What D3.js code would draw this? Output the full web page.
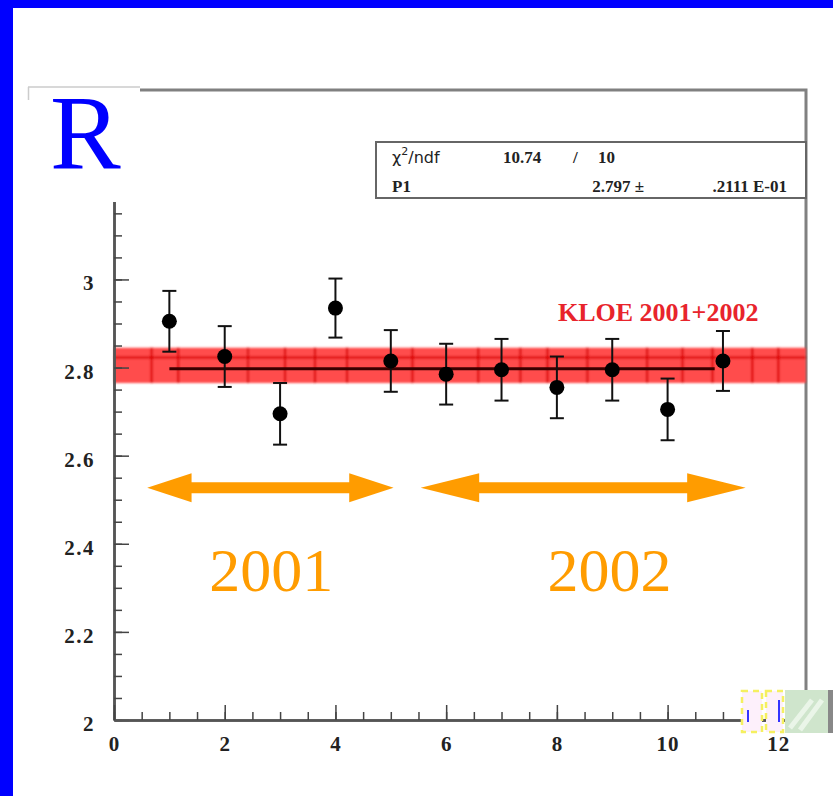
<!DOCTYPE html>
<html>
<head>
<meta charset="utf-8">
<script src="https://cdn.jsdelivr.net/npm/d3@7"></script>
<style>
  html, body { margin: 0; padding: 0; background: #fff; }
  svg { display: block; }
  .tick text { font-family: "Liberation Serif", serif; font-weight: bold; font-size: 21px; fill: #222; }
</style>
</head>
<body>
<svg id="chart" width="833" height="796"></svg>
<script>
// run number vs measured R, with errors
const runs = [1, 2, 3, 4, 5, 6, 7, 8, 9, 10, 11];
const ratio = [2.905, 2.825, 2.695, 2.935, 2.815, 2.785, 2.795, 2.755, 2.795, 2.705, 2.815];
const ratioErr = [0.069, 0.069, 0.070, 0.067, 0.070, 0.069, 0.070, 0.070, 0.070, 0.070, 0.068];

// constant fit
const fitValue = 2.797;
const fitRange = [1, 10.85];

// KLOE 2001+2002 band
const bandLow = 2.765;
const bandHigh = 2.845;
const bandLine = 2.823;
const bandGridX = [0.68, 1.16, 2.42, 3.09, 3.63, 4.21, 5.39, 6.58, 7.34, 7.83, 8.55, 9.63, 10.27, 10.81, 11.53, 12.0];
const bandLabel = 'KLOE 2001+2002';
const bandLabelPos = [9.83, 2.905];

// year annotations
const yearLabels = ['2001', '2002'];
const yearFrom = [0.6, 5.54];
const yearTo = [5.05, 11.41];
const yearLabelX = [2.84, 8.95];
const yearArrowY = 2.527;
const yearLabelY = 2.293;

// axes
const xMajor = [0, 2, 4, 6, 8, 10, 12];
const xMinor = d3.range(0, 12.51, 0.5);
const yMajor = [2, 2.2, 2.4, 2.6, 2.8, 3];
const yMinor = d3.range(2, 3.43, 0.05);

// stats box
const statsRows = [
  ['ndf', '10.74', '/', '10'],
  ['P1', '2.797 \u00b1', '.2111 E-01']
];

const svg = d3.select('#chart');
const W = 833, H = 796;

const x = d3.scaleLinear().domain([0, 12.5]).range([114, 806]);
const y = d3.scaleLinear().domain([2, 3.43]).range([720, 90]);

// blue slide frame
svg.append('rect').attr('width', W).attr('height', H).attr('fill', '#00f');
svg.append('rect').attr('x', 13).attr('y', 8).attr('width', W - 13).attr('height', H - 8).attr('fill', '#fff');

const defs = svg.append('defs');
defs.append('filter').attr('id', 'soft')
  .attr('x', '-5%').attr('y', '-50%').attr('width', '110%').attr('height', '200%')
  .append('feGaussianBlur').attr('stdDeviation', 1);

// plot frame (top + right)
svg.append('path')
  .attr('d', `M${x(0)},${y(3.43)} H${x(12.5)} V${y(2)}`)
  .attr('fill', 'none').attr('stroke', '#808080').attr('stroke-width', 3);

// red band
const band = svg.append('g').attr('filter', 'url(#soft)');
band.append('rect')
  .attr('x', x(0)).attr('width', x(12.5) - x(0))
  .attr('y', y(bandHigh)).attr('height', y(bandLow) - y(bandHigh))
  .attr('fill', '#ff3c3c').attr('opacity', 0.92);
band.selectAll('.gridline')
  .data(bandGridX)
  .enter()
  .append('line')
  .attr('class', 'gridline')
  .attr('x1', d => x(d)).attr('x2', d => x(d))
  .attr('y1', y(bandHigh)).attr('y2', y(bandLow))
  .attr('stroke', '#d80000').attr('stroke-width', 2);
band.append('line')
  .attr('x1', x(0)).attr('x2', x(12.5))
  .attr('y1', y(bandLine)).attr('y2', y(bandLine))
  .attr('stroke', '#d80000').attr('stroke-width', 2);

svg.append('text')
  .attr('x', x(bandLabelPos[0])).attr('y', y(bandLabelPos[1]))
  .attr('text-anchor', 'middle')
  .attr('font-family', 'Liberation Serif, serif').attr('font-weight', 'bold')
  .attr('font-size', 26).attr('fill', '#e8242c')
  .text(bandLabel);

// fit line
svg.append('line')
  .attr('x1', x(fitRange[0])).attr('x2', x(fitRange[1]))
  .attr('y1', y(fitValue)).attr('y2', y(fitValue))
  .attr('stroke', '#3a0000').attr('stroke-width', 3);

// data points with error bars
const pts = svg.selectAll('.pt')
  .data(runs.map((r, i) => ({r, v: ratio[i], e: ratioErr[i]})))
  .enter()
  .append('g')
  .attr('class', 'pt');
pts.append('line')
  .attr('x1', d => x(d.r)).attr('x2', d => x(d.r))
  .attr('y1', d => y(d.v + d.e)).attr('y2', d => y(d.v - d.e))
  .attr('stroke', '#111').attr('stroke-width', 2);
pts.selectAll('.cap')
  .data(d => [d.v + d.e, d.v - d.e].map(v => ({r: d.r, v})))
  .enter()
  .append('line')
  .attr('class', 'cap')
  .attr('x1', d => x(d.r) - 7).attr('x2', d => x(d.r) + 7)
  .attr('y1', d => y(d.v)).attr('y2', d => y(d.v))
  .attr('stroke', '#111').attr('stroke-width', 2);
pts.append('circle')
  .attr('cx', d => x(d.r)).attr('cy', d => y(d.v))
  .attr('r', 7.5).attr('fill', '#000');

// axes
const fmt = d => d3.format('.1~f')(d);
const yAxis = svg.append('g').attr('transform', `translate(${x(0)},0)`)
  .call(d3.axisLeft(y).tickValues(yMajor).tickSizeInner(-15).tickSizeOuter(0).tickPadding(19).tickFormat(fmt));
svg.append('g').attr('transform', `translate(${x(0)},0)`)
  .call(d3.axisLeft(y).tickValues(yMinor).tickSizeInner(-8).tickSizeOuter(0).tickFormat(''));
const xAxis = svg.append('g').attr('transform', `translate(0,${y(2)})`)
  .call(d3.axisBottom(x).tickValues(xMajor).tickSizeInner(-15).tickSizeOuter(0).tickPadding(16).tickFormat(fmt));
svg.append('g').attr('transform', `translate(0,${y(2)})`)
  .call(d3.axisBottom(x).tickValues(xMinor).tickSizeInner(-8).tickSizeOuter(0).tickFormat(''));
svg.selectAll('.domain').attr('stroke', '#555').attr('stroke-width', 2.5);
svg.selectAll('.tick line').attr('stroke', '#444').attr('stroke-width', 1.5);
yAxis.selectAll('text').attr('dy', '0.5em').attr('letter-spacing', 1.5);
xAxis.selectAll('text').attr('letter-spacing', 1);

// white patch behind the big R (covers frame corner)
svg.append('rect').attr('x', 28).attr('y', 86).attr('width', 112).attr('height', 116).attr('fill', '#fff');
svg.append('path').attr('d', 'M28,87 H140 M28.5,87 V100')
  .attr('stroke', '#ccc').attr('stroke-width', 1.5).attr('fill', 'none');
svg.append('text')
  .attr('x', 50).attr('y', 168)
  .attr('font-family', 'Liberation Serif, serif').attr('font-size', 106)
  .attr('fill', '#00f')
  .text('R');

// stats box
const box = svg.append('g').attr('transform', 'translate(376,142)');
box.append('rect').attr('width', 430).attr('height', 56)
  .attr('fill', '#fff').attr('stroke', '#666').attr('stroke-width', 2);
const statText = (sel) => sel.attr('font-family', 'Liberation Serif, serif').attr('font-size', 17).attr('fill', '#222');
const chi = box.append('text').attr('x', 16).attr('y', 21).call(statText)
  .attr('font-family', 'DejaVu Sans, sans-serif').attr('font-size', 16);
chi.append('tspan').text('\u03c7');
chi.append('tspan').attr('dy', -8).attr('font-size', 11).text('2');
chi.append('tspan').attr('dy', 8).text('/' + statsRows[0][0]);
[[127, statsRows[0][1]], [197, statsRows[0][2]], [222, statsRows[0][3]]].forEach(([px, t]) => {
  box.append('text').attr('x', px).attr('y', 21).call(statText).attr('font-weight', 'bold').text(t);
});
[[16, statsRows[1][0], 'start'], [268, statsRows[1][1], 'end'], [411, statsRows[1][2], 'end']].forEach(([px, t, a]) => {
  box.append('text').attr('x', px).attr('y', 50).attr('text-anchor', a).call(statText).attr('font-weight', 'bold').text(t);
});

// year arrows + labels
const orange = '#ff9c00';
const yearG = svg.selectAll('.year')
  .data(yearLabels.map((l, i) => ({l, a: yearFrom[i], b: yearTo[i], lx: yearLabelX[i]})))
  .enter()
  .append('g')
  .attr('class', 'year');
yearG.append('path')
  .attr('d', d => {
    const x0 = x(d.a), x1 = x(d.b), cy = y(yearArrowY);
    const head = 0.18 * (x1 - x0), hw = 14.5, sw = 5.5;
    return `M${x0},${cy} L${x0 + head},${cy - hw} V${cy - sw} H${x1 - head} V${cy - hw} L${x1},${cy} ` +
      `L${x1 - head},${cy + hw} V${cy + sw} H${x0 + head} V${cy + hw} Z`;
  })
  .attr('fill', orange);
yearG.append('text')
  .attr('x', d => x(d.lx)).attr('y', y(yearLabelY))
  .attr('text-anchor', 'middle')
  .attr('font-family', 'Liberation Serif, serif').attr('font-size', 62)
  .attr('fill', orange)
  .text(d => d.l);

// little logo remnant in bottom right corner
const logo = svg.append('g');
logo.append('rect').attr('x', 785).attr('y', 690).attr('width', 43).attr('height', 43).attr('fill', '#cfe5cc');
logo.append('path').attr('d', 'M790,728 L812,700 M800,730 L822,700').attr('stroke', '#eaf5e8').attr('stroke-width', 5);
logo.append('rect').attr('x', 828).attr('y', 690).attr('width', 5).attr('height', 43).attr('fill', '#888');
[[742, 20], [766, 17]].forEach(([lx, lw]) => {
  logo.append('rect').attr('x', lx).attr('y', 691).attr('width', lw).attr('height', 41)
    .attr('fill', '#fdf0fb').attr('stroke', '#f5f060').attr('stroke-width', 2.5).attr('stroke-dasharray', '6,5');
});
logo.append('path').attr('d', 'M748,710 V722 M779,700 V722').attr('stroke', '#33f').attr('stroke-width', 2);
</script>
</body>
</html>
